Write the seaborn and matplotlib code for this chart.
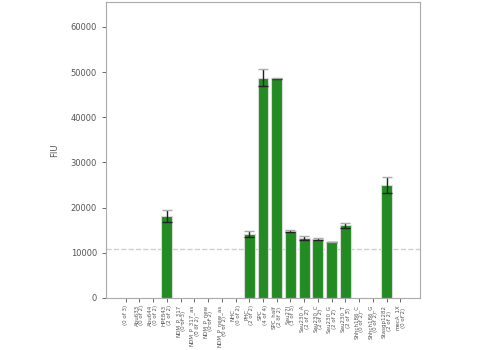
import matplotlib
matplotlib.use("Agg")
import matplotlib.pyplot as plt
import seaborn as sns
import numpy as np
import pandas as pd

categories = ["", "Abu633", "Abu644", "HPE843", "NDM_P_317", "NDM_P_317_as",
              "NDM_P_new", "NDM_P_new_as", "NHC", "PHC", "SPC", "SPC_half",
              "Sau27l", "Sau230_A", "Sau230_C", "Sau230_G", "Sau230_T",
              "Shhch186_C", "Shhch186_G", "Stasgp1282", "mecA_1X"]
counts = ["(0 of 3)", "(0 of 2)", "(0 of 2)", "(2 of 2)", "(0 of 3)", "(0 of 2)",
          "(0 of 2)", "(0 of 2)", "(0 of 2)", "(2 of 2)", "(4 of 4)", "(2 of 2)",
          "(3 of 3)", "(2 of 2)", "(2 of 2)", "(2 of 2)", "(2 of 3)",
          "(0 of 2)", "(0 of 2)", "(2 of 2)", "(0 of 2)"]
values = [0, 0, 0, 18200, 0, 0, 0, 0, 0, 14100, 48800, 48600,
          14800, 13300, 12950, 12350, 16050, 0, 0, 25000, 0]
errors = [0, 0, 0, 1350, 0, 0, 0, 0, 0, 650, 1800, 150,
          200, 450, 200, 80, 500, 0, 0, 1750, 0]
threshold = 10800

tick_labels = [(c + "\n" + n) if c else n for c, n in zip(categories, counts)]

df = pd.DataFrame({"label": tick_labels, "value": values, "err": errors})

sns.set_style("white")
fig = plt.figure(figsize=(5, 3.5), dpi=100)
ax = fig.add_axes([0.212, 0.149, 0.628, 0.845])

sns.barplot(data=df, x="label", y="value", color="#228B22", saturation=1,
            edgecolor="#d9d9d9", linewidth=0.8, width=0.8, ax=ax, errorbar=None)

x = np.arange(len(values))
mask = np.array(errors) > 0
eb = ax.errorbar(x[mask], np.array(values)[mask], yerr=np.array(errors)[mask],
                 fmt="none", ecolor="#222222", elinewidth=1, capsize=3.5, capthick=1)
caps = eb[1]
if len(caps) > 1:
    caps[1].set_markeredgecolor("#aaaaaa")
    caps[1].set_color("#aaaaaa")

ax.axhline(threshold, color="#d0d0d0", linestyle="--", linewidth=1, zorder=0.5)

ax.set_xlim(-1.44, 21.44)
ax.set_ylim(0, 65500)
ax.set_yticks([0, 10000, 20000, 30000, 40000, 50000, 60000])
ax.set_xlabel("")
ax.set_ylabel("FIU", fontsize=6, color="#555555", labelpad=8)
ax.tick_params(axis="y", labelsize=6, colors="#555555", length=3, width=0.6, direction="out", left=True)
ax.tick_params(axis="x", labelsize=4, colors="#555555", length=3, width=0.6, direction="out", bottom=True, pad=2)
plt.setp(ax.get_xticklabels(), rotation=90, ha="center", va="top", linespacing=1.0)
for s in ax.spines.values():
    s.set_color("#aaaaaa")
    s.set_linewidth(0.8)

fig.savefig("out.png", dpi=100)
